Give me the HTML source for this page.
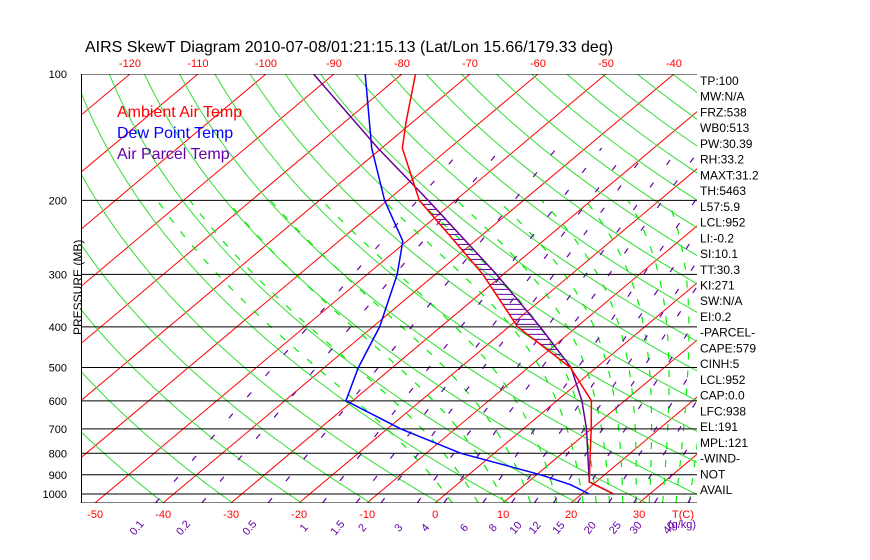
<!DOCTYPE html>
<html><head><meta charset="utf-8"><style>
body{margin:0;background:#fff;}
svg{display:block;font-family:"Liberation Sans",sans-serif;}
</style></head><body>
<svg id="chart" width="870" height="560" viewBox="0 0 870 560" xmlns="http://www.w3.org/2000/svg">
<defs><clipPath id="plotclip"><rect x="81" y="74" width="616" height="429"/></clipPath></defs>
<rect width="870" height="560" fill="#fff"/>
<text x="85" y="52" font-size="16" fill="#000">AIRS SkewT Diagram 2010-07-08/01:21:15.13 (Lat/Lon 15.66/179.33 deg)</text>
<g id="grid" clip-path="url(#plotclip)"></g>
<g id="series" clip-path="url(#plotclip)"></g>
<g id="axes"></g>
<g font-size="16">
<text x="117" y="117" fill="#ff0000">Ambient Air Temp</text>
<text x="117" y="138" fill="#0000ff">Dew Point Temp</text>
<text x="117" y="159" fill="#6600aa">Air Parcel Temp</text>
</g>
<text transform="translate(82,335) rotate(-90)" font-size="12" fill="#000">PRESSURE (MB)</text>
</svg>
<script>
const pressureLevels=[100,200,300,400,500,600,700,800,900,1000];
const bottomTempTicks=[-50,-40,-30,-20,-10,0,10,20,30];
const topTempTicks=[-120,-110,-100,-90,-80,-70,-60,-50,-40];
const mixingRatios=[0.1,0.2,0.5,1,1.5,2,3,4,6,8,10,12,15,20,25,30,40];
const moistThetaW=[0,4,8,12,16,20,22,24,26,28,30,32,34,36,38];
const statLabels=["TP:100","MW:N/A","FRZ:538","WB0:513","PW:30.39","RH:33.2","MAXT:31.2","TH:5463","L57:5.9","LCL:952","LI:-0.2","SI:10.1","TT:30.3","KI:271","SW:N/A","EI:0.2","-PARCEL-","CAPE:579","CINH:5","LCL:952","CAP:0.0","LFC:938","EL:191","MPL:121","-WIND-","NOT","AVAIL"];
const envP=[1000,936,850,700,600,500,400,300,250,200,150,130,100];
const envT=[24.7,19.0,16.0,10.0,5.1,-3.8,-18.7,-33,-43,-55.3,-67,-71,-78];
const dewP=[1000,951,900,800,700,600,500,400,300,250,200,150,100];
const dewT=[21.1,16.8,10.6,-4.9,-18,-31,-35,-39,-45.6,-50.6,-60.4,-71.5,-85.4];
const parP=[1000,936,700,600,500,400,300,200,150,100];
const parT=[24.7,19.0,9.3,3.7,-3.7,-15.4,-31,-54,-70.6,-93];

const NS="http://www.w3.org/2000/svg";
function yP(p){return 74+182.4*Math.log(p/100);}
function xT(T,p){return 435+6.8*T+1.191*(503-yP(p));}
function mk(tag,attrs,parent){const e=document.createElementNS(NS,tag);for(const k in attrs)e.setAttribute(k,attrs[k]);parent.appendChild(e);return e;}
function pathOf(ps,ts){let d="";for(let i=0;i<ps.length;i++){d+=(i?"L":"M")+xT(ts[i],ps[i]).toFixed(1)+","+yP(ps[i]).toFixed(1);}return d;}
const grid=document.getElementById('grid'),series=document.getElementById('series'),axes=document.getElementById('axes');
for(let T=-140;T<=50;T+=10){
 const l=mk('line',{x1:xT(T,1050),y1:yP(1050),x2:xT(T,100),y2:yP(100),stroke:'#ff0000','stroke-width':1},grid);
 
 
}
for(let th=230;th<=480;th+=10){
 let d="";let i=0;
 for(let p=1050;p>=100;p-=10){const T=th*Math.pow(p/1000,0.286)-273.15;d+=(i++?"L":"M")+xT(T,p).toFixed(1)+","+yP(p).toFixed(1);}
 const e=mk('path',{d:d,fill:'none',stroke:'#33dd33','stroke-width':1},grid);
 
 
}
function es(T){return 6.112*Math.exp(17.67*T/(T+243.5));}
moistThetaW.forEach(tw=>{
 let T=tw+273.15;let pts=[];
 function step(p,T,dp){const Tc=T-273.15;const e=es(Tc);const rs=0.622*e/(p-e);const Lv=2.5e6,Rd=287,cp=1005;
  const dTdp=(Rd*T+Lv*rs)/(p*(cp+Lv*Lv*rs*0.622/(Rd*T*T)));return T+dTdp*dp;}
 let Tb=T;for(let p=1000;p<1050;p+=5){Tb=step(p,Tb,5);}
 pts.push([1050,Tb]);
 for(let p=1000;p>=200;p-=5){if(p<1000)T=step(p+5,T,-5);pts.push([p,T]);}
 pts.sort((a,b)=>b[0]-a[0]);
 let d="";pts.forEach((q,i)=>{d+=(i?"L":"M")+xT(q[1]-273.15,q[0]).toFixed(1)+","+yP(q[0]).toFixed(1);});
 const e=mk('path',{d:d,fill:'none',stroke:'#00ee00','stroke-width':1.2,'stroke-dasharray':'7,11'},grid);
 
 
});
function tForW(w,p){const e=w*p/(622+w);const L=Math.log(e/6.112);return 243.5*L/(17.67-L);}
mixingRatios.forEach(w=>{
 const e=mk('line',{x1:xT(tForW(w,1050),1050),y1:yP(1050),x2:xT(tForW(w,150),150),y2:yP(150),stroke:'#6600aa','stroke-width':1.2,'stroke-dasharray':'6,22'},grid);
 
 
 const x=xT(tForW(w,1050),1050)-16;
 const t=mk('text',{x:x,y:530,'font-size':11,fill:'#6600aa',transform:`rotate(-50 ${x} 530)`,'text-anchor':'middle'},axes);
 t.textContent=String(w);
 
 
});
pressureLevels.forEach(p=>{
 const e=mk('line',{x1:81,y1:yP(p),x2:697,y2:yP(p),stroke:'#000','stroke-width':1},grid);
 
 
 const t=mk('text',{x:67,y:yP(p)+4,'font-size':11,fill:'#000','text-anchor':'end'},axes);
 t.textContent=String(p);
 
 
});
mk('line',{x1:81,y1:503,x2:697,y2:503,stroke:'#000','stroke-width':1},grid);
mk('line',{x1:81.5,y1:74,x2:81.5,y2:503,stroke:'#000','stroke-width':1},axes);
function interp(ps,ts,p){for(let i=0;i<ps.length-1;i++){if(p<=ps[i]&&p>=ps[i+1]){const f=Math.log(ps[i]/p)/Math.log(ps[i]/ps[i+1]);return ts[i]+f*(ts[i+1]-ts[i]);}}return null;}
for(let y=yP(200)+4;y<yP(1000);y+=5){
 const p=100*Math.exp((y-74)/182.4);const a=interp(parP,parT,p),b=interp(envP,envT,p);
 if(a!==null&&b!==null&&a>b+0.3){
  const e=mk('line',{x1:xT(b,p),y1:y,x2:xT(a,p),y2:y,stroke:'#6600aa','stroke-width':1},series);
  
  
 }
}
const dewLine=mk('path',{d:pathOf(dewP,dewT),fill:'none',stroke:'#0000ff','stroke-width':1.5},series);


const parLine=mk('path',{d:pathOf(parP,parT),fill:'none',stroke:'#660099','stroke-width':1.5},series);


const envLine=mk('path',{d:pathOf(envP,envT),fill:'none',stroke:'#ff0000','stroke-width':1.5},series);


bottomTempTicks.forEach(T=>{
 const t=mk('text',{x:xT(T,1050),y:518,'font-size':11,fill:'#ff0000','text-anchor':'middle'},axes);
 t.textContent=String(T);
 
 
});
const tc=mk('text',{x:683,y:518,'font-size':11,fill:'#ff0000','text-anchor':'middle'},axes);
tc.textContent="T(C)";


const gk=mk('text',{x:682,y:528,'font-size':11,fill:'#6600aa','text-anchor':'middle'},axes);
gk.textContent="(g/kg)";


topTempTicks.forEach(T=>{
 const t=mk('text',{x:xT(T,100),y:67,'font-size':11,fill:'#ff0000','text-anchor':'middle'},axes);
 t.textContent=String(T);
 
 
});
statLabels.forEach((s,i)=>{
 const t=mk('text',{x:700,y:85+i*15.73,'font-size':12,fill:'#000'},axes);
 t.textContent=s;
 
 
});
</script>
</body></html>
